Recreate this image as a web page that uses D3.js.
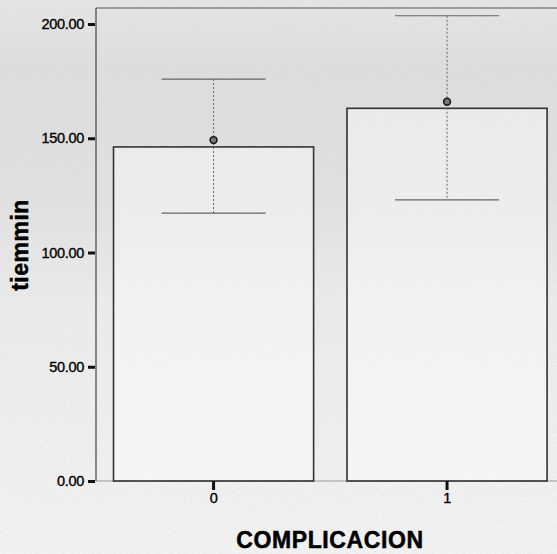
<!DOCTYPE html>
<html>
  <head>
    <meta charset="utf-8">
    <title>tiemmin by COMPLICACION</title>
    <script src="https://cdn.jsdelivr.net/npm/d3@7"></script>
    <style>
      body { margin: 0; background: #ececec; }
      svg { display: block; font-family: "Liberation Sans", Arial, sans-serif; }
      .tickLabel { font-size: 14.5px; fill: #000; stroke: #000; stroke-width: 0.35px; letter-spacing: -0.3px; }
      .axisTitle { font-weight: bold; fill: #000; stroke: #000; stroke-width: 0.5px; }
    </style>
  </head>
  <body>
    <svg id="chart" width="557" height="554"></svg>

    <script>
      // data
      categories = ["0", "1"];
      barValues = [146.2, 163.1];
      meanValues = [149.2, 166.0];
      lowerValues = [117.2, 123.0];
      upperValues = [175.9, 203.6];
      yTicks = [0, 50, 100, 150, 200];

      svg = d3.select("#chart");
      width = 557;
      height = 554;

      // scanned grey paper
      defs = svg.append("defs");
      grad = defs.append("linearGradient")
        .attr("id", "paper")
        .attr("x1", 0).attr("y1", 0).attr("x2", 0).attr("y2", 1);
      [[0, "#e7e7e7"], [0.12, "#dfdfdf"], [0.35, "#e2e2e2"], [0.55, "#ededed"], [1, "#f4f4f4"]]
        .forEach(function(s) {
          grad.append("stop").attr("offset", s[0]).attr("stop-color", s[1]);
        });
      noise = defs.append("filter").attr("id", "grain");
      noise.append("feTurbulence")
        .attr("type", "fractalNoise")
        .attr("baseFrequency", "0.9 0.6")
        .attr("numOctaves", 2)
        .attr("seed", 3);
      noise.append("feColorMatrix")
        .attr("values", "0 0 0 0 0.5  0 0 0 0 0.5  0 0 0 0 0.5  0 0 0 -1.6 1.1");

      svg.append("rect")
        .attr("width", width).attr("height", height)
        .attr("fill", "url(#paper)");
      svg.append("rect")
        .attr("width", width).attr("height", height)
        .attr("filter", "url(#grain)")
        .attr("opacity", 0.2);

      margin = { top: 8, left: 96, bottom: 481 };

      x = d3.scaleBand()
        .domain(categories)
        .range([margin.left, 564.6])
        .paddingInner(0.143)
        .paddingOuter(0.075);
      y = d3.scaleLinear()
        .domain([0, 200])
        .range([margin.bottom, 24]);

      // frame: top and baseline
      svg.append("line")
        .attr("x1", margin.left).attr("x2", width)
        .attr("y1", margin.top).attr("y2", margin.top)
        .attr("stroke", "#555").attr("stroke-width", 1.2);
      svg.append("line")
        .attr("x1", margin.left).attr("x2", width)
        .attr("y1", y(0)).attr("y2", y(0))
        .attr("stroke", "#999").attr("stroke-width", 1);

      // bars
      svg.selectAll(".bar")
          .data(categories)
        .enter().append("rect")
          .attr("class", "bar")
          .attr("x", function(d) { return x(d); })
          .attr("y", function(d, i) { return y(barValues[i]); })
          .attr("width", x.bandwidth())
          .attr("height", function(d, i) { return y(0) - y(barValues[i]); })
          .attr("fill", "#ffffff")
          .attr("fill-opacity", 0.4)
          .attr("stroke", "#333")
          .attr("stroke-width", 1.6);

      // error bars
      capHalf = x.bandwidth() * 0.26;
      errGroup = svg.selectAll(".err")
          .data(categories)
        .enter().append("g")
          .attr("class", "err")
          .attr("transform", function(d) { return "translate(" + (x(d) + x.bandwidth() / 2) + ",0)"; });
      errGroup.append("line")
        .attr("y1", function(d, i) { return y(upperValues[i]); })
        .attr("y2", function(d, i) { return y(lowerValues[i]); })
        .attr("stroke", "#666")
        .attr("stroke-width", 1)
        .attr("stroke-dasharray", "2,2");
      errGroup.append("line")
        .attr("x1", -capHalf).attr("x2", capHalf)
        .attr("y1", function(d, i) { return y(upperValues[i]); })
        .attr("y2", function(d, i) { return y(upperValues[i]); })
        .attr("stroke", "#666").attr("stroke-width", 1.2);
      errGroup.append("line")
        .attr("x1", -capHalf).attr("x2", capHalf)
        .attr("y1", function(d, i) { return y(lowerValues[i]); })
        .attr("y2", function(d, i) { return y(lowerValues[i]); })
        .attr("stroke", "#666").attr("stroke-width", 1.2);
      errGroup.append("circle")
        .attr("cy", function(d, i) { return y(meanValues[i]); })
        .attr("r", 3.4)
        .attr("fill", "#777")
        .attr("stroke", "#1a1a1a")
        .attr("stroke-width", 1.6);

      // y axis
      yAxis = d3.axisLeft(y)
        .tickValues(yTicks)
        .tickSize(8)
        .tickPadding(4)
        .tickFormat(d3.format(".2f"));
      yAxisGroup = svg.append("g")
        .attr("transform", "translate(" + margin.left + ",0)")
        .call(yAxis);
      yAxisGroup.select(".domain")
        .attr("d", "M0," + margin.top + "V" + y(0))
        .attr("stroke", "#444")
        .attr("stroke-width", 1.2);
      yAxisGroup.selectAll(".tick line")
        .attr("stroke", "#111").attr("stroke-width", 3)
        .attr("x2", -8).attr("x1", -1);
      yAxisGroup.selectAll(".tick text")
        .attr("class", "tickLabel")
        .attr("font-size", null).attr("font-family", null)
        .attr("x", -12);

      // x axis
      xAxis = d3.axisBottom(x)
        .tickSize(9)
        .tickPadding(2);
      xAxisGroup = svg.append("g")
        .attr("transform", "translate(0," + y(0) + ")")
        .call(xAxis);
      xAxisGroup.select(".domain").remove();
      xAxisGroup.selectAll(".tick line")
        .attr("stroke", "#111").attr("stroke-width", 3);
      xAxisGroup.selectAll(".tick text")
        .attr("class", "tickLabel")
        .attr("font-size", null).attr("font-family", null)
        .attr("y", 12);

      // axis titles
      svg.append("text")
        .attr("class", "axisTitle")
        .attr("x", 330).attr("y", 548)
        .attr("text-anchor", "middle")
        .style("font-size", "23px")
        .style("letter-spacing", "0.6px")
        .text("COMPLICACION");
      svg.append("text")
        .attr("class", "axisTitle")
        .attr("transform", "translate(28,245) rotate(-90)")
        .attr("text-anchor", "middle")
        .style("font-size", "23px")
        .style("letter-spacing", "0.5px")
        .text("tiemmin");
    </script>
  </body>
</html>
